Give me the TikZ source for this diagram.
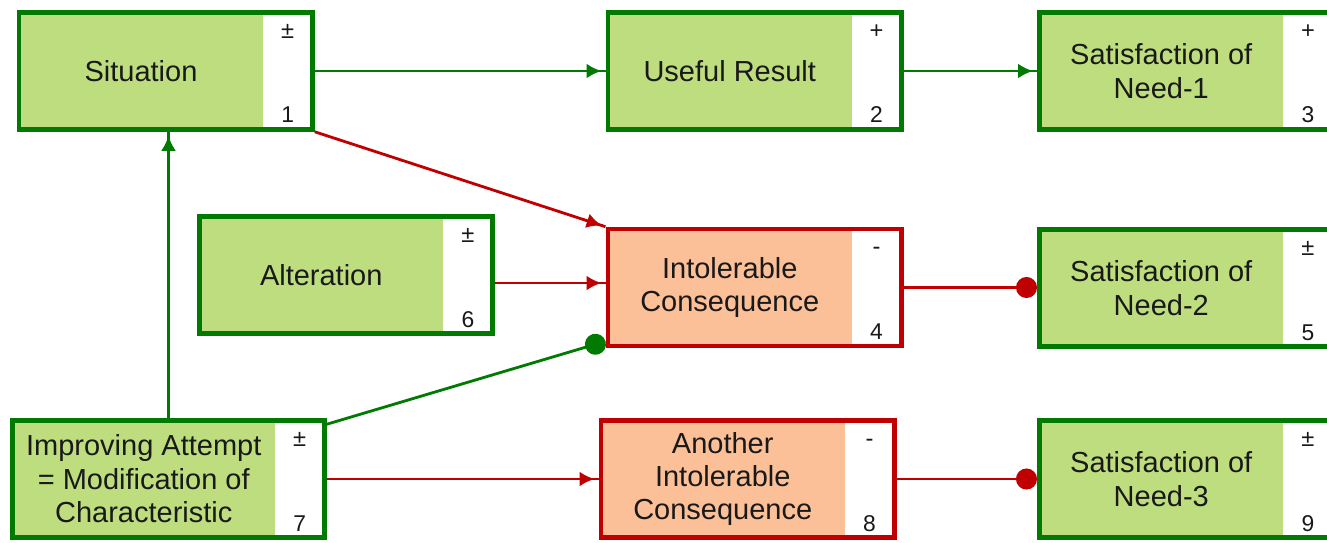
\documentclass[tikz,border=0pt]{standalone}
\usepackage{fontspec}
\setmainfont{Liberation Sans}
\usetikzlibrary{arrows.meta, positioning, fit}

\definecolor{factgreen}{RGB}{190,221,126}
\definecolor{factorange}{RGB}{251,192,152}
\definecolor{edgegreen}{RGB}{0,122,0}
\definecolor{edgered}{RGB}{192,0,0}

\begin{document}
\begin{tikzpicture}[
    x=0.02cm, y=-0.02cm,
    fact/.style={fill=factgreen, minimum width=4.88cm, minimum height=2.34cm,
        inner sep=0pt, outer sep=0pt, align=center, text=black!90,
        font=\fontsize{16.5}{19}\selectfont},
    bad fact/.style={fact, fill=factorange},
    strip/.style={fill=white, minimum width=0.99cm, minimum height=2.34cm,
        inner sep=0pt, outer sep=0pt, right=0pt of #1},
    sign/.style={anchor=base, inner sep=0pt, yshift=-0.51cm, text=black!90,
        font=\fontsize{13.5}{15}\selectfont},
    num/.style={anchor=base, inner sep=0pt, yshift=0.13cm, text=black!90,
        font=\fontsize{13}{15}\selectfont},
    good border/.style={draw=edgegreen, line width=2.6pt, inner sep=0pt},
    bad border/.style={draw=edgered, line width=2.6pt, inner sep=0pt},
    good link/.style={draw=edgegreen, line width=1.6pt,
        -{Latex[length=0.3cm,width=0.3cm]Rectangle[length=0.08cm,width=1.6pt]}},
    bad link/.style={good link, draw=edgered},
    good dot/.style={draw=edgegreen, line width=1.6pt, -{Circle[length=0.42cm]}},
    bad dot/.style={good dot, draw=edgered}
]
\clip (0,0) rectangle (1327,542);

% Top row
\node[fact] (c1) at (141,71) {Situation};
\node[strip=c1, label={[sign]north:±}, label={[num]south:1}] (w1) {};
\node[good border, fit=(c1)(w1)] (b1) {};

\node[fact] (c2) at (729.75,71) {Useful Result};
\node[strip=c2, label={[sign]north:+}, label={[num]south:2}] (w2) {};
\node[good border, fit=(c2)(w2)] (b2) {};

\node[fact] (c3) at (1161.25,71) {Satisfaction of\\Need-1};
\node[strip=c3, label={[sign]north:+}, label={[num]south:3}] (w3) {};
\node[good border, fit=(c3)(w3)] (b3) {};

% Middle row
\node[fact] (c6) at (321.25,275) {Alteration};
\node[strip=c6, label={[sign]north:±}, label={[num]south:6}] (w6) {};
\node[good border, fit=(c6)(w6)] (b6) {};

\node[bad fact] (c4) at (729.75,287.5) {Intolerable\\Consequence};
\node[strip=c4, label={[sign]north:-}, label={[num]south:4}] (w4) {};
\node[bad border, fit=(c4)(w4)] (b4) {};

\node[fact] (c5) at (1161.25,288) {Satisfaction of\\Need-2};
\node[strip=c5, label={[sign]north:±}, label={[num]south:5}] (w5) {};
\node[good border, fit=(c5)(w5)] (b5) {};

% Bottom row (attempt box is a bit wider)
\node[fact, minimum width=5.25cm] (c7) at (143.75,479) {Improving Attempt\\= Modification of\\Characteristic};
\node[strip=c7, label={[sign]north:±}, label={[num]south:7}] (w7) {};
\node[good border, fit=(c7)(w7)] (b7) {};

\node[bad fact] (c8) at (722.75,479) {Another\\Intolerable\\Consequence};
\node[strip=c8, label={[sign]north:-}, label={[num]south:8}] (w8) {};
\node[bad border, fit=(c8)(w8)] (b8) {};

\node[fact] (c9) at (1161.25,479) {Satisfaction of\\Need-3};
\node[strip=c9, label={[sign]north:±}, label={[num]south:9}] (w9) {};
\node[good border, fit=(c9)(w9)] (b9) {};

% Useful chain
\draw[good link] (b1) -- (b2);
\draw[good link] (b2) -- (b3);
\draw[good link] (b7.north) -- (b7.north |- b1.south);

% Harmful effects
\draw[bad link] (b1.south east) -- (b4.north west);
\draw[bad link] ([yshift=-0.16cm]b6.east) -- ([yshift=-0.16cm]b6.east -| b4.west);
\draw[bad link] (b7) -- (b8);

% Counteractions (dot ends)
\draw[good dot] ([yshift=-0.12cm]b7.north east) -- ([yshift=0.14cm]b4.south west);
\draw[bad dot] (b4.east) -- (b4.east -| b5.west);
\draw[bad dot] (b8) -- (b9);

\end{tikzpicture}
\end{document}
